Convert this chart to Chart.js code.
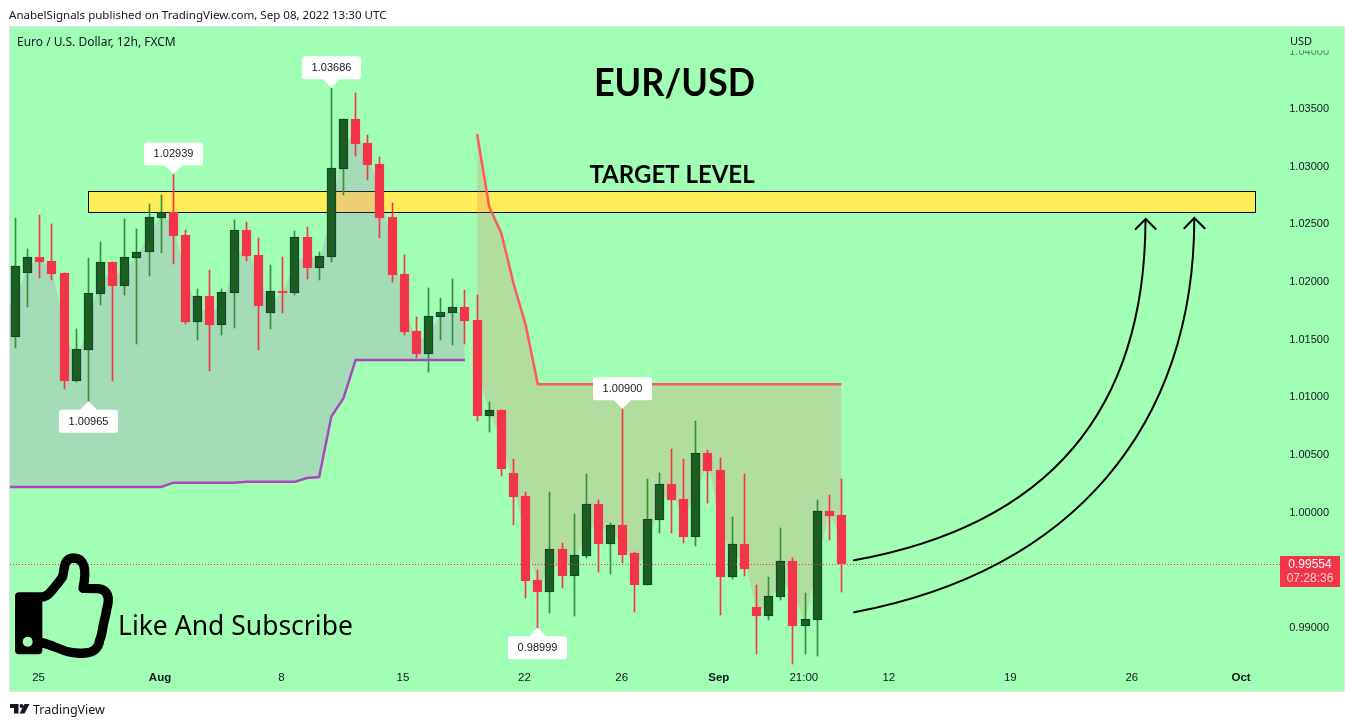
<!DOCTYPE html>
<html><head><meta charset="utf-8">
<style>html,body{margin:0;padding:0;background:#fff}canvas{display:block}</style>
<script src="https://cdn.jsdelivr.net/npm/chart.js@4/dist/chart.umd.js"></script>
</head><body><canvas id="c" width="1354" height="727"></canvas>
<script>
const opens=[1.01526,1.02082,1.02215,1.02183,1.02079,1.01144,1.01413,1.01899,1.02172,1.01969,1.02212,1.02259,1.02559,1.02606,1.02406,1.01656,1.01877,1.01630,1.01908,1.02449,1.02235,1.01734,1.01923,1.01908,1.02391,1.02125,1.02220,1.02984,1.03413,1.03205,1.03022,1.02565,1.02070,1.01575,1.01378,1.01700,1.01734,1.01784,1.01671,1.00838,1.00890,1.00343,1.00143,0.99414,0.99313,0.99683,0.99451,0.99625,1.00074,0.99729,0.99891,0.99648,0.99373,0.99938,1.00247,1.00117,0.99790,1.00516,1.00369,0.99443,0.99727,0.99180,0.99104,0.99269,0.99579,0.99017,0.99070,1.00013,0.99978];
const highs=[1.02554,1.02287,1.02582,1.02504,1.02079,1.01590,1.02206,1.02348,1.02172,1.02548,1.02461,1.02678,1.02756,1.02939,1.02449,1.01940,1.02105,1.01940,1.02539,1.02522,1.02383,1.02148,1.02218,1.02443,1.02478,1.02261,1.03686,1.03413,1.03641,1.03277,1.03083,1.02686,1.02235,1.01697,1.01949,1.01862,1.02027,1.01931,1.01888,1.00959,1.00890,1.00464,1.00178,0.99501,1.00178,0.99735,0.99987,1.00334,1.00109,0.99909,1.00900,0.99657,1.00291,1.00343,1.00551,1.00464,1.00794,1.00543,1.00473,0.99961,1.00334,0.99371,0.99440,0.99865,0.99605,0.99301,1.00109,1.00152,1.00291];
const lows=[1.01431,1.01786,1.02035,1.02018,1.01072,1.01133,1.00965,1.01801,1.01141,1.01888,1.01463,1.02053,1.02255,1.02157,1.01636,1.01497,1.01228,1.01541,1.01601,1.02183,1.01411,1.01593,1.01732,1.01888,1.02027,1.02018,1.02174,1.02756,1.03094,1.02886,1.02383,1.02001,1.01541,1.01341,1.01220,1.01497,1.01454,1.01463,1.00794,1.00699,1.00317,0.99891,0.99258,0.98999,0.99128,0.99345,0.99102,0.99605,0.99484,0.99466,0.99562,0.99136,0.99371,0.99822,0.99822,0.99735,0.99709,1.00082,0.99110,0.99423,0.99449,0.98772,0.99067,0.99240,0.98685,0.98772,0.98754,0.99761,0.99310];
const closes=[1.02137,1.02215,1.02174,1.02070,1.01141,1.01417,1.01903,1.02172,1.01966,1.02215,1.02259,1.02562,1.02606,1.02403,1.01654,1.01877,1.01628,1.01911,1.02449,1.02226,1.01792,1.01920,1.01905,1.02389,1.02122,1.02224,1.02988,1.03413,1.03199,1.03016,1.02556,1.02062,1.01567,1.01376,1.01703,1.01738,1.01781,1.01662,1.00838,1.00890,1.00378,1.00135,0.99405,0.99310,0.99681,0.99449,0.99628,1.00071,0.99727,0.99889,0.99631,0.99371,0.99941,1.00245,1.00109,0.99787,1.00514,1.00360,0.99440,0.99724,0.99510,0.99102,0.99273,0.99576,0.99015,0.99073,1.00010,0.99970,0.99554];
const firstBarMiddle=1.0180;
const upTrendStart=-1;
const upTrend=[1.00221,1.00221,1.00221,1.00221,1.00221,1.00221,1.00221,1.00221,1.00221,1.00221,1.00221,1.00221,1.00221,1.00221,1.00259,1.00259,1.00259,1.00259,1.00259,1.00259,1.00267,1.00267,1.00267,1.00267,1.00267,1.00299,1.00308,1.00832,1.00991,1.01324,1.01324,1.01324,1.01324,1.01324,1.01324,1.01324,1.01324,1.01324,1.01324];
const downTrendStart=38;
const downTrend=[1.03285,1.02654,1.02423,1.01989,1.01628,1.01113,1.01113,1.01113,1.01113,1.01113,1.01113,1.01113,1.01113,1.01113,1.01113,1.01113,1.01113,1.01113,1.01113,1.01113,1.01113,1.01113,1.01113,1.01113,1.01113,1.01113,1.01113,1.01113,1.01113,1.01113,1.01113];
const xTickPositions=[2,12,22,32,42,50,58,65,72,82,92,101];
const xTickLabels=['25','Aug','8','15','22','26','Sep','21:00','12','19','26','Oct'];
const boldTicks=['Aug','Sep','Oct'];
const yTickValues=[1.04,1.035,1.03,1.025,1.02,1.015,1.01,1.005,1.0,0.99];
const calloutIdx=[6,13,26,43,50];
const calloutVals=[1.00965,1.02939,1.03686,0.98999,1.00900];
const calloutBelow=[true,false,false,true,false];
const zoneRange=[6,102.08];
const zoneLevels=[1.02786,1.02604];
const lastPrice=0.99554;
const texts={
 header:'AnabelSignals published on TradingView.com, Sep 08, 2022 13:30 UTC',
 symbol:'Euro / U.S. Dollar, 12h, FXCM',title:'EUR/USD',target:'TARGET LEVEL',
 like:'Like And Subscribe',brand:'TradingView',currency:'USD',countdown:'07:28:36'};

const BG='#a0ffb3',GREEN='#1b5e20',GREENB='#0b3f3c',GWICK='#388e3c',RED='#f43548';
const FONT='"Noto Sans","Open Sans",sans-serif';
const NUMFONT='"Liberation Sans",sans-serif';
const TXT='#131722';

const isUp=i=>closes[i]>=opens[i];
const middle=i=>(opens[i]+closes[i])/2;
const upMid=upTrend.map((v,k)=>{const i=k+upTrendStart;return {x:i,y:i<0?firstBarMiddle:middle(i)};});
const dnMid=downTrend.map((v,k)=>{const i=k+downTrendStart;return {x:i,y:middle(i)};});

const bgPlugin={id:'bg',
 beforeDraw(c){const x=c.ctx;
  x.fillStyle='#fff';x.fillRect(0,0,1354,727);
  x.fillStyle='#e0e3eb';x.fillRect(9,26,1336,666);
  x.fillStyle=BG;x.fillRect(10,27,1334,664);},
 beforeDatasetsDraw(c){const x=c.ctx,sx=c.scales.x,sy=c.scales.y;
  c.data.datasets.forEach((d,i)=>{const m=c.getDatasetMeta(i);if(m.type!=='bar')return;
   m.data.forEach(e=>{e.x=Math.floor(e.x)+.5;e.y=Math.round(e.y);e.base=Math.round(e.base);});});
  const l=Math.round(sx.getPixelForValue(zoneRange[0]))+.5,r=Math.round(sx.getPixelForValue(zoneRange[1]))+.5;
  const t=Math.floor(sy.getPixelForValue(zoneLevels[0]))+.5,b=Math.floor(sy.getPixelForValue(zoneLevels[1]))+.5;
  x.fillStyle='#ffee58';x.fillRect(l,t,r-l,b-t);
  x.strokeStyle='#000';x.lineWidth=1;x.strokeRect(l,t,r-l,b-t);
 },
 afterDatasetsDraw(c){const x=c.ctx,sx=c.scales.x,sy=c.scales.y;
  const py=Math.round(sy.getPixelForValue(lastPrice))+.5;
  x.save();x.strokeStyle='#ff2a3c';x.lineWidth=1;x.setLineDash([1,2]);
  x.beginPath();x.moveTo(10,py);x.lineTo(1280,py);x.stroke();x.restore();
  x.save();x.font='11px '+NUMFONT;x.textAlign='center';x.textBaseline='middle';
  calloutIdx.forEach((idx,k)=>{
   const cx=Math.floor(sx.getPixelForValue(idx))+.5,ty=sy.getPixelForValue(calloutVals[k]);
   const below=calloutBelow[k],bh=23,bw=59,arrow=8.5;
   const top=below?ty+arrow:ty-arrow-bh;
   x.fillStyle='#fff';
   x.beginPath();x.roundRect(cx-bw/2,top,bw,bh,2.5);x.fill();
   x.beginPath();
   if(below){x.moveTo(cx-9,top+.5);x.lineTo(cx,ty);x.lineTo(cx+9,top+.5);}
   else{x.moveTo(cx-9,top+bh-.5);x.lineTo(cx,ty);x.lineTo(cx+9,top+bh-.5);}
   x.closePath();x.fill();
   x.fillStyle=TXT;x.fillText(calloutVals[k].toFixed(5),cx,top+bh/2+.5);
  });
  x.restore();
 },
 afterDraw(c){const x=c.ctx;x.save();
  x.fillStyle=BG;x.fillRect(1285,44,50,6.5);
  x.globalAlpha=.45;x.fillRect(1285,50.5,50,7);x.globalAlpha=1;
  x.textBaseline='alphabetic';x.textAlign='left';
  x.fillStyle=TXT;x.font='11.55px '+FONT;
  x.fillText(texts.header,9,19);
  x.font='12px '+FONT;
  x.fillText(texts.symbol,17,46);
  x.font='11px '+FONT;x.fillText(texts.currency,1290,45);
  x.font='12.5px '+FONT;x.fillText(texts.brand,33,714);
  x.fillStyle='#000';
  x.textAlign='center';
  x.save();x.translate(674.5,96);x.scale(1,1.08);x.font='bold 36px Lato,'+FONT;x.fillText(texts.title,0,0);x.restore();
  x.font='bold 24px Lato,'+FONT;x.fillText(texts.target,672,183);
  x.textAlign='left';x.font='26.5px '+FONT;x.fillText(texts.like,118,635);
  x.fillStyle=RED;x.fillRect(1280,556,60,31);
  x.textAlign='center';x.textBaseline='middle';x.font='12px '+NUMFONT;
  x.fillStyle='#fff';x.fillText(lastPrice.toFixed(5),1310,565);
  x.fillStyle='#ffd3d7';x.fillText(texts.countdown,1310,579);
  x.strokeStyle='#000';x.lineWidth=2;x.lineCap='round';x.lineJoin='miter';
  x.beginPath();x.moveTo(854,560.3);x.bezierCurveTo(1050,525,1145,410,1145.5,220);x.stroke();
  x.beginPath();x.moveTo(1135.7,229);x.lineTo(1145.7,219);x.lineTo(1155.7,229);x.stroke();
  x.beginPath();x.moveTo(854,612.3);x.bezierCurveTo(1075,570,1194,425,1194.3,219);x.stroke();
  x.beginPath();x.moveTo(1184.3,228.3);x.lineTo(1194.3,218);x.lineTo(1204.7,228.3);x.stroke();
  x.save();x.translate(0,540);x.scale(1/3,1/3);
  x.fillStyle='#000';x.beginPath();x.roundRect(45,157,82,186,12);x.fill();
  x.strokeStyle='#000';x.lineWidth=28;x.lineJoin='round';x.lineCap='round';
  x.beginPath();x.moveTo(125,171);x.bezierCurveTo(140,171,148,163,187,112);
  x.bezierCurveTo(195,90,188,55,220,54);x.bezierCurveTo(252,54,262,85,249,145);
  x.lineTo(295,146);x.bezierCurveTo(318,148,328,165,324,190);
  x.bezierCurveTo(318,215,318,225,312,245);x.bezierCurveTo(307,265,307,285,299,300);
  x.bezierCurveTo(297,325,280,338,255,339);x.bezierCurveTo(200,345,170,318,125,308);x.stroke();
  x.fillStyle=BG;x.beginPath();x.arc(83,305,15,0,Math.PI*2);x.fill();
  x.restore();
  x.fillStyle='#131722';
  x.beginPath();x.moveTo(10,704);x.lineTo(18.5,704);x.lineTo(18.5,713.5);x.lineTo(14,713.5);x.lineTo(14,708);x.lineTo(10,708);x.closePath();x.fill();
  x.beginPath();x.arc(21.5,706,2,0,Math.PI*2);x.fill();
  x.beginPath();x.moveTo(24.5,704);x.lineTo(29.5,704);x.lineTo(24.5,713.5);x.lineTo(19.5,713.5);x.closePath();x.fill();
  x.restore();
 }};

const wickData=closes.map((_,i)=>({x:i,y:[lows[i],highs[i]]}));
const bodyData=closes.map((_,i)=>({x:i,y:[opens[i],closes[i]]}));
const upData=upTrend.map((v,k)=>({x:k+upTrendStart,y:v}));
const dnData=downTrend.map((v,k)=>({x:k+downTrendStart,y:v}));

new Chart(document.getElementById('c'),{
 type:'bar',
 plugins:[bgPlugin],
 data:{datasets:[
  {type:'line',label:'Up Trend',data:upData,borderColor:'#ab47bc',borderWidth:2.5,pointRadius:0,tension:0,order:1},
  {type:'line',label:'Down Trend',data:dnData,borderColor:'#ff5a5a',borderWidth:2.5,pointRadius:0,tension:0,order:1},
  {type:'line',label:'Body Middle Up',data:upMid,borderWidth:0,borderColor:'transparent',pointRadius:0,tension:0,fill:{target:0},backgroundColor:'rgba(176,109,197,.24)',order:6},
  {type:'line',label:'Body Middle Down',data:dnMid,borderWidth:0,borderColor:'transparent',pointRadius:0,tension:0,fill:{target:1},backgroundColor:'rgba(235,117,97,.24)',order:6},
  {label:'Wicks',data:wickData,barThickness:1,grouped:false,borderWidth:0,backgroundColor:closes.map((_,i)=>isUp(i)?GWICK:RED),order:4},
  {label:'Bodies',data:bodyData,barThickness:9,grouped:false,borderWidth:1,borderSkipped:false,
   backgroundColor:closes.map((_,i)=>isUp(i)?GREEN:RED),borderColor:closes.map((_,i)=>isUp(i)?GREENB:RED),order:3}
 ]},
 options:{
  responsive:false,devicePixelRatio:1,animation:false,
  layout:{autoPadding:false,padding:{left:10,right:10,top:27,bottom:36}},
  plugins:{legend:{display:false},tooltip:{enabled:false},title:{display:false}},
  scales:{
   x:{type:'linear',min:-0.4528,max:109.37,offset:false,bounds:'data',
    grid:{display:false,drawTicks:false},border:{display:false},
    afterBuildTicks:s=>{s.ticks=xTickPositions.map(v=>({value:v-0.1}));},
    afterFit:s=>{s.height=26;},
    ticks:{autoSkip:false,maxRotation:0,padding:6,color:TXT,
     callback:(v,i)=>xTickLabels[i],
     font:ctx=>({family:NUMFONT,size:11.5,weight:boldTicks.includes(ctx.tick&&ctx.tick.label)?'bold':'normal'})}},
   y:{type:'linear',position:'right',min:0.98676,max:1.04214,bounds:'data',
    grid:{display:false,drawTicks:false},border:{display:false},
    afterBuildTicks:s=>{s.ticks=yTickValues.map(v=>({value:v}));},
    afterFit:s=>{s.width=0;},
    ticks:{mirror:true,padding:-15,color:TXT,autoSkip:false,
     callback:v=>v.toFixed(5),font:{family:NUMFONT,size:11}}}
  }
 }
});
</script></body></html>
